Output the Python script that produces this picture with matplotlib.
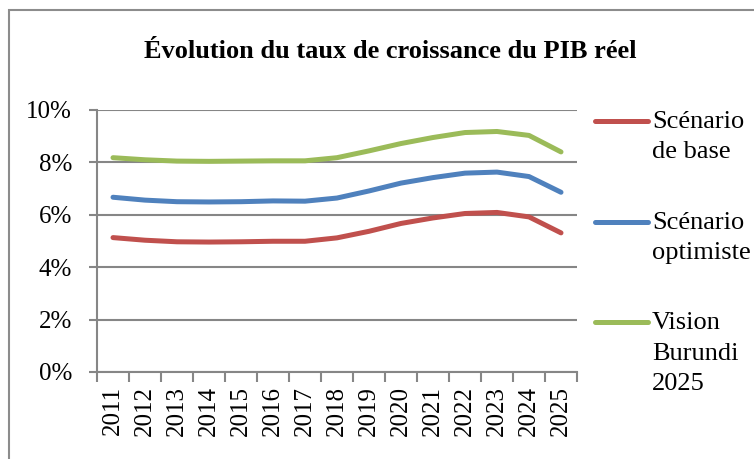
import numpy as np
import matplotlib
matplotlib.use("Agg")
import matplotlib.pyplot as plt
from matplotlib.lines import Line2D
from matplotlib.patches import Rectangle
from matplotlib.ticker import FuncFormatter

years = [str(y) for y in range(2011, 2026)]
base = [5.13, 5.03, 4.97, 4.96, 4.97, 4.99, 4.99, 5.12, 5.37, 5.67, 5.88, 6.05, 6.09, 5.92, 5.31]
optimiste = [6.67, 6.56, 6.50, 6.49, 6.50, 6.53, 6.52, 6.64, 6.91, 7.21, 7.42, 7.59, 7.63, 7.46, 6.86]
vision = [8.18, 8.10, 8.05, 8.04, 8.05, 8.06, 8.06, 8.18, 8.44, 8.72, 8.95, 9.14, 9.18, 9.03, 8.40]

labels = ["Scénario\nde base", "Scénario\noptimiste", "Vision\nBurundi\n2025"]
colors = ["#C0504D", "#4F81BD", "#9BBB59"]
title = "Évolution du taux de croissance du PIB réel"

plt.rcParams['font.family'] = ['Liberation Serif', 'DejaVu Serif']
W, H = 754, 459
fig = plt.figure(figsize=(W / 100, H / 100), dpi=100)

# outer frame (cut off on the right and bottom)
fig.add_artist(Rectangle((9 / W, -0.05), 1.0, 1 - 10 / H + 0.05, transform=fig.transFigure,
                         fill=False, edgecolor="#8c8c8c", linewidth=1.5))

ax = fig.add_axes([97 / W, 1 - 372 / H, 480 / W, 262 / H])
x = np.arange(len(years))
for vals, c in zip([base, optimiste, vision], colors):
    ax.plot(x, vals, color=c, linewidth=3.6, solid_capstyle='round', solid_joinstyle='round', zorder=3)

ax.set_xlim(-0.5, len(years) - 0.5)
ax.set_ylim(0, 10)
ax.set_yticks(np.arange(0, 11, 2))
ax.yaxis.set_major_formatter(FuncFormatter(lambda v, p: "%d%%" % v))
ax.grid(axis='y', color="#868686", linewidth=1.5)
ax.set_axisbelow(True)

ax.set_xticks(x)
ax.set_xticklabels(years, rotation=90)
ax.set_xticks(np.arange(-0.5, len(years), 1), minor=True)
ax.tick_params(axis='x', which='major', length=0, labelsize=18, pad=10)
ax.tick_params(axis='x', which='minor', length=7, width=1.5, color="#868686")
ax.tick_params(axis='y', length=6, width=1.5, color="#868686", labelsize=18, pad=12)

for s in ['top', 'right']:
    ax.spines[s].set_visible(False)
for s in ['left', 'bottom']:
    ax.spines[s].set_color("#868686")
    ax.spines[s].set_linewidth(1.5)

fig.text(390 / W, 1 - 52 / H, title, ha='center', va='center', fontsize=19, fontweight='bold')

# legend drawn by hand
leg_y = [121, 222, 322]
for lab, c, yy in zip(labels, colors, leg_y):
    fig.add_artist(Line2D([595 / W, 648 / W], [1 - yy / H, 1 - yy / H], transform=fig.transFigure,
                          color=c, linewidth=3.6, solid_capstyle='round'))
    fig.text(652 / W, 1 - (yy - 10) / H, lab, ha='left', va='top', fontsize=19, linespacing=1.5)

fig.savefig("out.png", dpi=100)
